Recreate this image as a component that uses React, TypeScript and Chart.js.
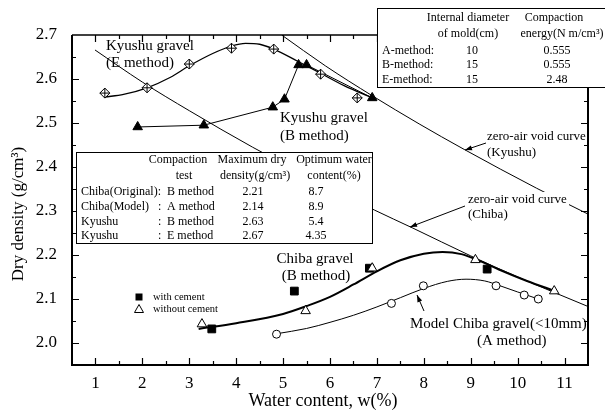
import React, { useEffect, useRef } from 'react';
import { Chart, registerables } from 'chart.js';

Chart.register(...registerables);

const FONT = '"Liberation Serif", "Times New Roman", Times, serif';

// ---- Kyushu gravel, E method (open diamond with cross) ----
const kyushuE_w = [1.2, 2.1, 3.0, 3.9, 4.8, 5.8, 6.58];
const kyushuE_rho = [2.568, 2.58, 2.634, 2.67, 2.668, 2.611, 2.557];
// fitted curve
const kyushuEFit_w = [1.2, 1.6, 2.1, 2.6, 3.0, 3.5, 3.9, 4.2, 4.5, 4.8, 5.3, 5.8, 6.3, 6.9];
const kyushuEFit_rho = [2.559, 2.565, 2.58, 2.604, 2.63, 2.658, 2.675, 2.681, 2.679, 2.668, 2.641, 2.613, 2.585, 2.557];

// ---- Kyushu gravel, B method (filled triangles, straight segments) ----
const kyushuB_w = [1.9, 3.31, 4.78, 5.03, 5.33, 5.5, 6.9];
const kyushuB_rho = [2.491, 2.495, 2.536, 2.554, 2.632, 2.632, 2.557];

// ---- Chiba gravel, B method ----
const chibaCement_w = [3.48, 5.24, 6.84, 9.35];
const chibaCement_rho = [2.032, 2.118, 2.17, 2.168];
const chibaNoCement_w = [3.27, 5.48, 6.9, 9.1, 10.78];
const chibaNoCement_rho = [2.043, 2.073, 2.17, 2.189, 2.118];
const chibaFit_w = [3.2, 4.0, 5.0, 5.5, 6.0, 6.5, 7.0, 7.5, 8.0, 8.4, 8.8, 9.2, 9.6, 10.2, 10.8];
const chibaFit_rho = [2.032, 2.045, 2.066, 2.084, 2.105, 2.133, 2.163, 2.188, 2.203, 2.207, 2.202, 2.186, 2.167, 2.141, 2.118];

// ---- Model Chiba gravel (<10mm), A method ----
const modelA_w = [4.86, 7.31, 7.99, 9.54, 10.14, 10.44];
const modelA_rho = [2.02, 2.09, 2.13, 2.13, 2.109, 2.1];
const modelFit_w = [4.86, 5.5, 6.0, 6.5, 7.0, 7.5, 8.0, 8.5, 8.9, 9.3, 9.6, 10.0, 10.44];
const modelFit_rho = [2.021, 2.033, 2.047, 2.063, 2.082, 2.103, 2.124, 2.14, 2.145, 2.141, 2.131, 2.116, 2.1];

// ---- zero-air void curves ----
const zavKyushu_w = [4.97, 5.9, 6.9, 7.9, 8.86, 10.4, 11.5];
const zavKyushu_rho = [2.7, 2.63, 2.562, 2.498, 2.44, 2.352, 2.293];
const zavChiba_w = [0.99, 2.0, 3.0, 4.35, 5.5, 6.95, 7.75, 9.0, 10.0, 11.5];
const zavChiba_rho = [2.666, 2.593, 2.528, 2.445, 2.38, 2.302, 2.262, 2.198, 2.15, 2.083];

// ---- axes ----
const xMin = 0.5, xMax = 11.5, xMinor = 0.5;
const yMin = 1.95, yMax = 2.7, yMinor = 0.05;
const xTickValues = [1, 2, 3, 4, 5, 6, 7, 8, 9, 10, 11];
const yTickValues = [2.0, 2.1, 2.2, 2.3, 2.4, 2.5, 2.6, 2.7];
const xTitle = 'Water content, w(%)';
const yTitle = 'Dry density (g/cm³)';

// ---- summary table (lower left) ----
const sumHeader1 = ['Compaction', 'Maximum dry', 'Optimum water'];
const sumHeader2 = ['test', 'density(g/cm³)', 'content(%)'];
const sumSoil = ['Chiba(Original):', 'Chiba(Model)', 'Kyushu', 'Kyushu'];
const sumMethod = ['B method', 'A method', 'B method', 'E method'];
const sumMaxDensity = ['2.21', '2.14', '2.63', '2.67'];
const sumOptW = ['8.7', '8.9', '5.4', '4.35'];

// ---- method table (upper right) ----
const methHeader1 = ['Internal diameter', 'Compaction'];
const methHeader2 = ['of mold(cm)', 'energy(N m/cm³)'];
const methNames = ['A-method:', 'B-method:', 'E-method:'];
const methDiameter = ['10', '15', '15'];
const methEnergy = ['0.555', '0.555', '2.48'];

const legendLabels = ['with cement', 'without cement'];

function txt(ctx: CanvasRenderingContext2D, s: string, x: number, y: number, size: number,
  align: CanvasTextAlign = 'left', baseline: CanvasTextBaseline = 'middle') {
  ctx.font = `${size}px ${FONT}`;
  ctx.textAlign = align;
  ctx.textBaseline = baseline;
  ctx.fillStyle = '#000';
  ctx.fillText(s, x, y);
}

function arrow(ctx: CanvasRenderingContext2D, x1: number, y1: number, x2: number, y2: number) {
  ctx.strokeStyle = '#000';
  ctx.fillStyle = '#000';
  ctx.lineWidth = 1;
  ctx.beginPath();
  ctx.moveTo(x1, y1);
  ctx.lineTo(x2, y2);
  ctx.stroke();
  const ang = Math.atan2(y2 - y1, x2 - x1);
  const L = 7, W = 2.5;
  ctx.beginPath();
  ctx.moveTo(x2, y2);
  ctx.lineTo(x2 - L * Math.cos(ang) + W * Math.sin(ang), y2 - L * Math.sin(ang) - W * Math.cos(ang));
  ctx.lineTo(x2 - L * Math.cos(ang) - W * Math.sin(ang), y2 - L * Math.sin(ang) + W * Math.cos(ang));
  ctx.closePath();
  ctx.fill();
}

const isOn = (v: number, list: number[]) => list.some((t) => Math.abs(t - v) < 1e-6);

const overlay = {
  id: 'overlay',
  afterDatasetsDraw(chart: any) {
    const { ctx, chartArea: a, scales } = chart;
    const sx = scales.x, sy = scales.y;
    ctx.save();
    // frame
    ctx.strokeStyle = '#000';
    ctx.lineWidth = 2;
    ctx.beginPath();
    ctx.moveTo(a.left, a.top);
    ctx.lineTo(a.left, a.bottom);
    ctx.lineTo(a.right, a.bottom);
    ctx.lineTo(a.right, a.top);
    ctx.stroke();
    ctx.lineWidth = 1.5;
    ctx.beginPath();
    ctx.moveTo(a.left, a.top);
    ctx.lineTo(a.right, a.top);
    ctx.stroke();
    // inward ticks
    ctx.lineWidth = 1.2;
    ctx.beginPath();
    for (let v = xMin + xMinor; v < xMax - 1e-6; v += xMinor) {
      const len = isOn(v, xTickValues) ? 7 : 4;
      const p = Math.round(sx.getPixelForValue(v)) + 0.5;
      ctx.moveTo(p, a.bottom); ctx.lineTo(p, a.bottom - len);
      ctx.moveTo(p, a.top); ctx.lineTo(p, a.top + len);
    }
    for (let v = yMin + yMinor; v < yMax - 1e-6; v += yMinor) {
      const len = isOn(v, yTickValues) ? 7 : 4;
      const p = Math.round(sy.getPixelForValue(v)) + 0.5;
      ctx.moveTo(a.left, p); ctx.lineTo(a.left + len, p);
      ctx.moveTo(a.right, p); ctx.lineTo(a.right - len, p);
    }
    ctx.stroke();

    // axis titles
    txt(ctx, xTitle, 323, 401, 18, 'center', 'middle');
    ctx.save();
    ctx.translate(19, 214);
    ctx.rotate(-Math.PI / 2);
    txt(ctx, yTitle, 0, 0, 17, 'center', 'middle');
    ctx.restore();

    // summary table (lower left)
    ctx.fillStyle = '#fff';
    ctx.fillRect(76.5, 152.5, 296, 91);
    ctx.strokeStyle = '#000';
    ctx.lineWidth = 1;
    ctx.strokeRect(76.5, 152.5, 296, 91);
    const c1 = [178, 252, 334];
    const c2 = [184, 255, 334];
    sumHeader1.forEach((s, i) => txt(ctx, s, c1[i], 160, 12, 'center'));
    sumHeader2.forEach((s, i) => txt(ctx, s, c2[i], 176, 12, 'center'));
    const rowY = [192, 207, 222, 236];
    sumSoil.forEach((s, i) => {
      txt(ctx, s, 81, rowY[i], 12);
      if (!s.endsWith(':')) txt(ctx, ':', 158, rowY[i], 12);
      txt(ctx, sumMethod[i], 167, rowY[i], 12);
      txt(ctx, sumMaxDensity[i], 253, rowY[i], 12, 'center');
      txt(ctx, sumOptW[i], 316, rowY[i], 12, 'center');
    });

    // method table (upper right)
    ctx.fillStyle = '#fff';
    ctx.fillRect(377.5, 8.5, 240, 79);
    ctx.strokeStyle = '#000';
    ctx.lineWidth = 1;
    ctx.strokeRect(377.5, 8.5, 240, 79);
    txt(ctx, methHeader1[0], 468, 18, 12, 'center');
    txt(ctx, methHeader1[1], 554, 18, 12, 'center');
    txt(ctx, methHeader2[0], 468, 34, 12, 'center');
    txt(ctx, methHeader2[1], 562, 34, 12, 'center');
    const mY = [51, 65, 80];
    methNames.forEach((s, i) => {
      txt(ctx, s, 382, mY[i], 12);
      txt(ctx, methDiameter[i], 472, mY[i], 12, 'center');
      txt(ctx, methEnergy[i], 557, mY[i], 12, 'center');
    });

    // annotations
    txt(ctx, 'Kyushu gravel', 106, 50, 15, 'left', 'alphabetic');
    txt(ctx, '(E method)', 106, 67, 15, 'left', 'alphabetic');
    txt(ctx, 'Kyushu gravel', 280, 122, 15, 'left', 'alphabetic');
    txt(ctx, '(B method)', 280, 140, 15, 'left', 'alphabetic');
    txt(ctx, 'Chiba gravel', 315, 263, 15, 'center', 'alphabetic');
    txt(ctx, '(B method)', 316, 280, 15, 'center', 'alphabetic');
    txt(ctx, 'Model Chiba gravel(<10mm)', 410, 328, 15, 'left', 'alphabetic');
    txt(ctx, '(A method)', 477, 345, 15, 'left', 'alphabetic');

    txt(ctx, 'zero-air void curve', 487, 140, 13, 'left', 'alphabetic');
    txt(ctx, '(Kyushu)', 487, 156, 13, 'left', 'alphabetic');
    ctx.fillStyle = '#fff';
    ctx.fillRect(466, 192, 103, 14);
    txt(ctx, 'zero-air void curve', 468, 203, 13, 'left', 'alphabetic');
    txt(ctx, '(Chiba)', 468, 218, 13, 'left', 'alphabetic');

    arrow(ctx, 486, 143, 465, 150);
    arrow(ctx, 465, 206, 410, 227);
    arrow(ctx, 424, 311, 417, 295);

    // legend
    ctx.fillStyle = '#000';
    ctx.fillRect(135.5, 293.5, 7, 7);
    ctx.strokeStyle = '#000';
    ctx.lineWidth = 1;
    ctx.beginPath();
    ctx.moveTo(139, 304.5);
    ctx.lineTo(143.5, 312.5);
    ctx.lineTo(134.5, 312.5);
    ctx.closePath();
    ctx.stroke();
    txt(ctx, legendLabels[0], 153, 297, 10.5);
    txt(ctx, legendLabels[1], 153, 309, 10.5);

    ctx.restore();
  },
};

const pts = (w: number[], r: number[]) => w.map((v, i) => ({ x: v, y: r[i] }));

export default function App() {
  const ref = useRef<HTMLCanvasElement>(null);
  useEffect(() => {
    document.body.style.margin = '0';
    const canvas = ref.current!;
    const line = (w: number[], r: number[], width: number, smooth: boolean) => ({
      data: pts(w, r),
      showLine: true,
      borderColor: '#000',
      borderWidth: width,
      pointRadius: 0,
      cubicInterpolationMode: smooth ? 'monotone' : 'default',
      fill: false,
    });
    const chart = new Chart(canvas, {
      type: 'scatter',
      data: {
        datasets: [
          { data: pts(chibaNoCement_w, chibaNoCement_rho), pointStyle: 'triangle', pointRadius: 5.5,
            backgroundColor: '#fff', borderColor: '#000', borderWidth: 1, showLine: false },
          { data: pts(chibaCement_w, chibaCement_rho), pointStyle: 'rect', pointRadius: 5.5,
            backgroundColor: '#000', borderColor: '#000', borderWidth: 1, showLine: false },
          { data: pts(modelA_w, modelA_rho), pointStyle: 'circle', pointRadius: 4,
            backgroundColor: '#fff', borderColor: '#000', borderWidth: 1, showLine: false },
          { data: pts(kyushuE_w, kyushuE_rho), pointStyle: 'cross', pointRadius: 5,
            backgroundColor: '#000', borderColor: '#000', borderWidth: 1, showLine: false },
          { data: pts(kyushuE_w, kyushuE_rho), pointStyle: 'rectRot', pointRadius: 5,
            backgroundColor: '#fff', borderColor: '#000', borderWidth: 1, showLine: false },
          { data: pts(kyushuB_w, kyushuB_rho), showLine: true, borderColor: '#000', borderWidth: 1,
            pointStyle: 'triangle', pointRadius: 5.5, pointBackgroundColor: '#000', pointBorderColor: '#000' },
          line(kyushuEFit_w, kyushuEFit_rho, 1.3, true),
          line(chibaFit_w, chibaFit_rho, 2, true),
          line(modelFit_w, modelFit_rho, 1, true),
          line(zavKyushu_w, zavKyushu_rho, 1, true),
          line(zavChiba_w, zavChiba_rho, 1, true),
        ] as any,
      },
      options: {
        responsive: false,
        animation: false,
        devicePixelRatio: 1,
        layout: { padding: { top: 35, right: 17, left: 0, bottom: 0 } },
        plugins: { legend: { display: false }, tooltip: { enabled: false } },
        scales: {
          x: {
            type: 'linear',
            min: xMin,
            max: xMax,
            grid: { display: false },
            border: { display: false },
            afterBuildTicks: (s: any) => { s.ticks = xTickValues.map((v) => ({ value: v })); },
            ticks: {
              padding: 0,
              color: '#000',
              font: { family: FONT, size: 17 },
              callback: (v: any) => String(v),
            },
            afterFit: (s: any) => { s.height = 51; },
          },
          y: {
            type: 'linear',
            min: yMin,
            max: yMax,
            grid: { display: false },
            border: { display: false },
            afterBuildTicks: (s: any) => { s.ticks = yTickValues.map((v) => ({ value: v })); },
            ticks: {
              padding: 7,
              color: '#000',
              font: { family: FONT, size: 17 },
              callback: (v: any) => Number(v).toFixed(1),
            },
            afterFit: (s: any) => { s.width = 72; },
          },
        },
      } as any,
      plugins: [overlay],
    });
    return () => chart.destroy();
  }, []);
  return <canvas ref={ref} width={605} height={416} style={{ display: 'block', width: 605, height: 416 }} />;
}
